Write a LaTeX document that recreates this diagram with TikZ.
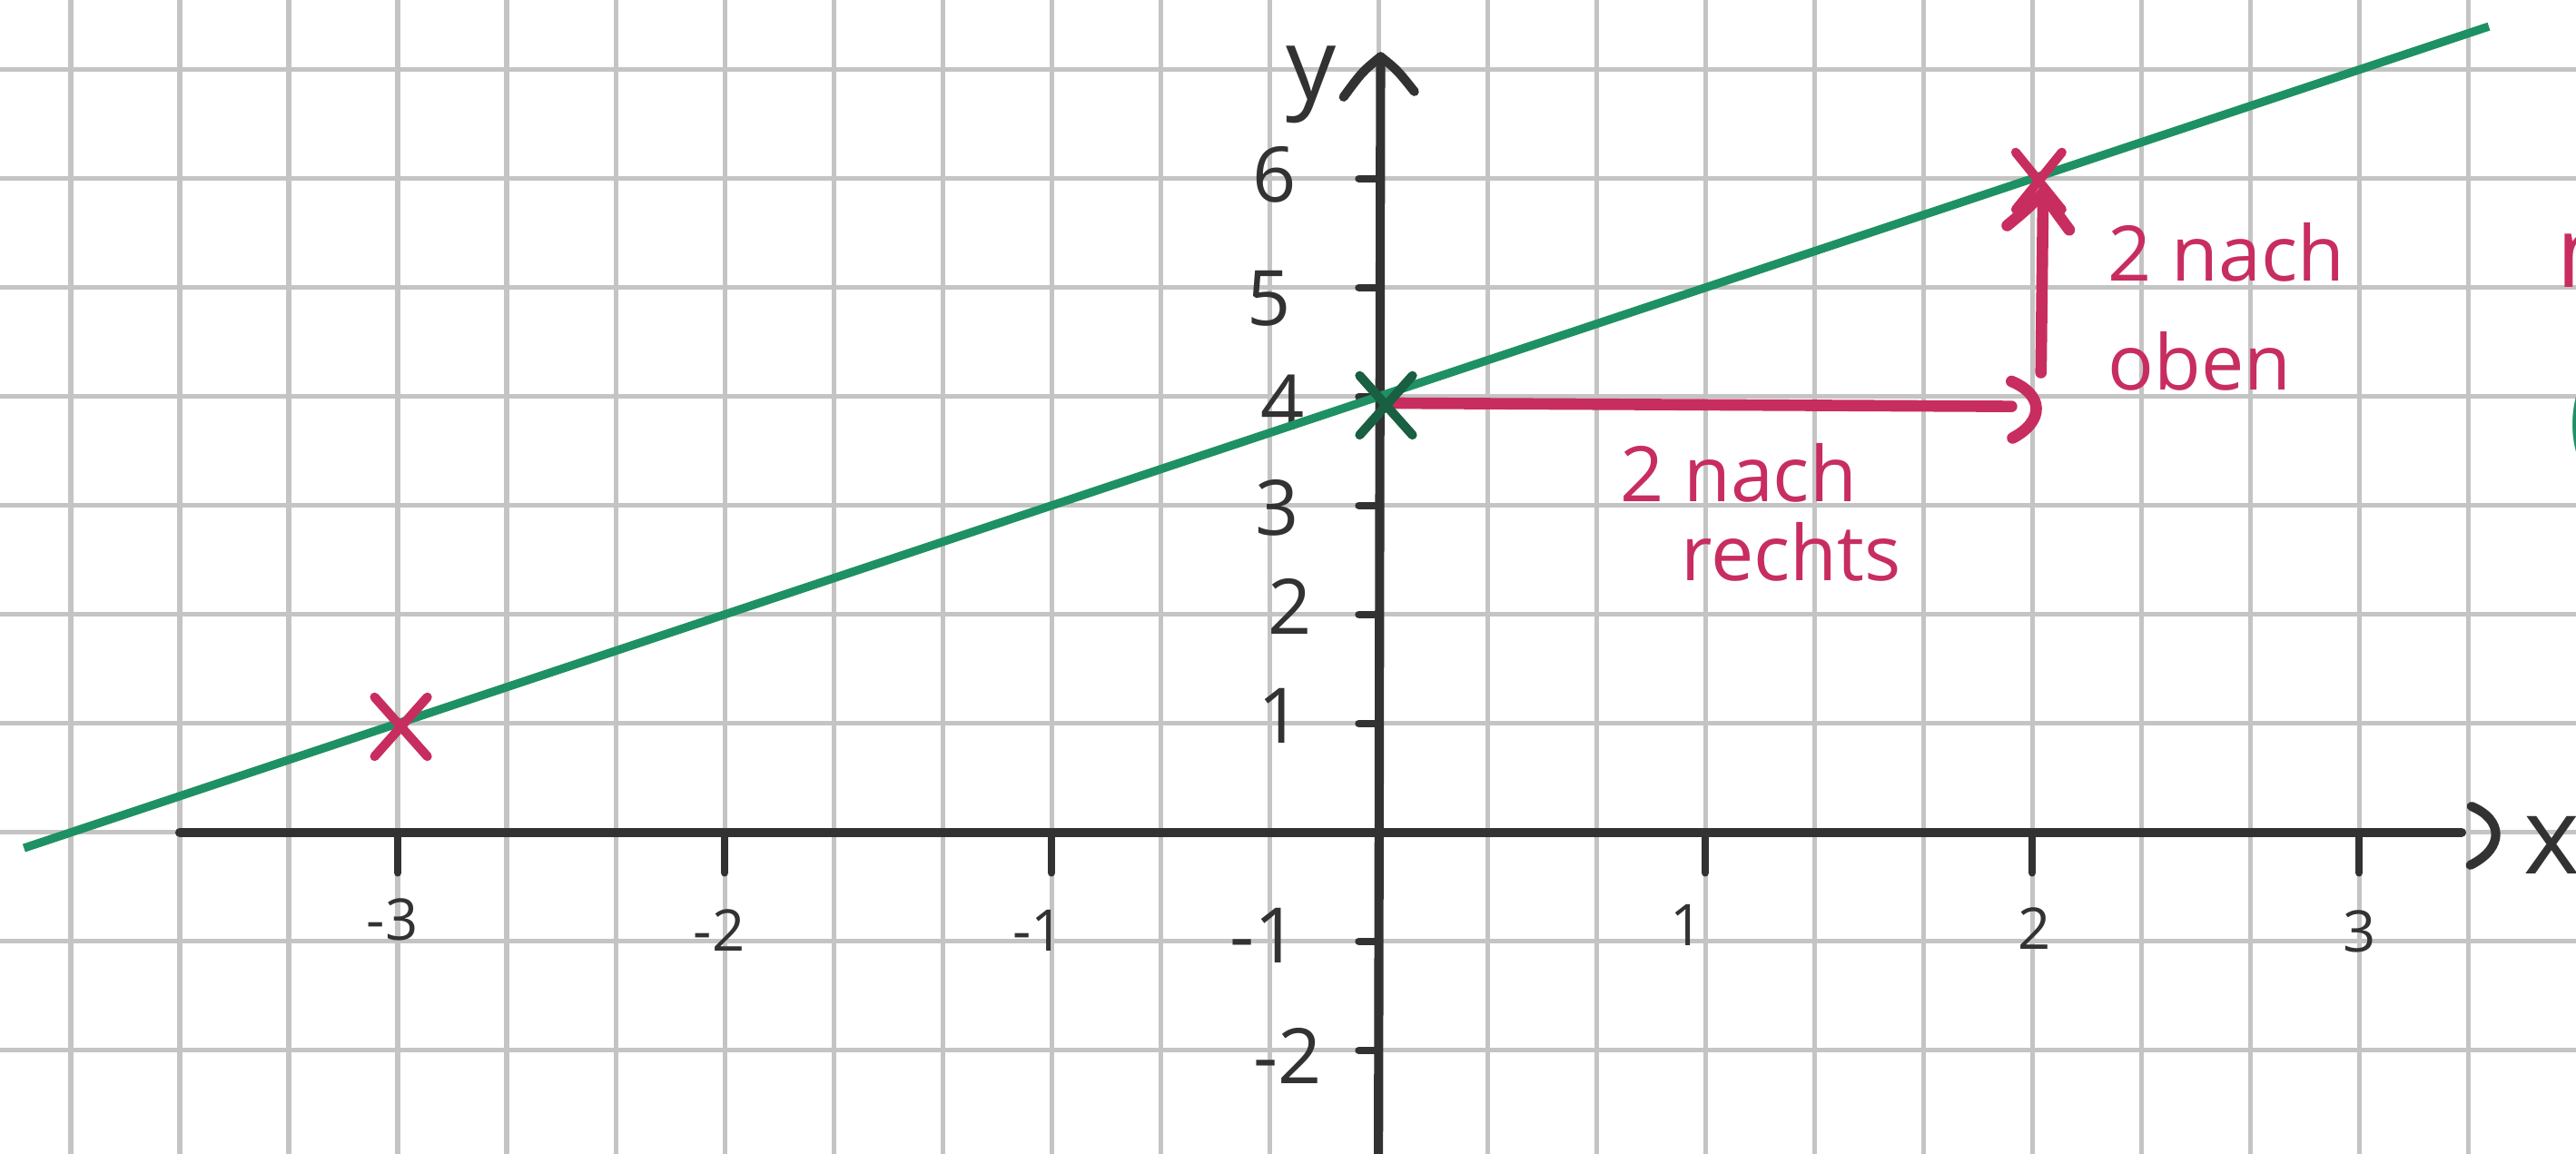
\documentclass[tikz,border=0pt]{standalone}
\usepackage{fontspec}
\setmainfont{Open Sans}
\usetikzlibrary{shapes.misc}
\definecolor{gridgray}{RGB}{196,196,196}
\definecolor{axisdark}{RGB}{50,50,50}
\definecolor{pen}{RGB}{200,45,95}
\definecolor{lgreen}{RGB}{30,145,100}
\definecolor{dgreen}{RGB}{25,95,65}
\begin{document}
\begin{tikzpicture}[x=1cm,y=1cm,
  gridline/.style={gridgray, line width=1.2pt},
  axis/.style={axisdark, line width=2.4pt, line cap=round, line join=round},
  tickmark/.style={axisdark, line width=2pt, line cap=round},
  ylab/.style={inner sep=0pt, text=axisdark, font=\fontsize{20}{20}\selectfont},
  xlab/.style={inner sep=0pt, text=axisdark, font=\fontsize{15}{15}\selectfont},
  redpen/.style={pen, line width=3pt, line cap=round, line join=round},
  redtxt/.style={inner sep=0pt, anchor=base west, text=pen, font=\fontsize{20}{20}\selectfont},
  graphline/.style={lgreen, line width=2.2pt},
  crossmark/.style={cross out, draw, line width=2.4pt, line cap=round, inner sep=0pt, minimum width=0.4cm, minimum height=0.46cm},
]
\useasboundingbox[fill=white] (-12.65,-2.95) rectangle (10.99,7.64);
\draw[gridline] (-12.65,-2.95) grid (10.99,7.64);

% axes
\coordinate (xs) at (-11,0);
\coordinate (xe) at (9.94,0);
\coordinate (ys) at (0,-3.1);
\coordinate (ye) at (0.02,7.12);
\draw[axis] (xs) -- (xe);
\draw[axis] (10.03,0.24) .. controls (10.32,0.12) and (10.34,-0.14) .. (10.02,-0.30);
\draw[axis] (ys) -- (ye);
\draw[axis] (-0.32,6.75) .. controls (-0.15,6.98) .. (ye) .. controls (0.17,7.0) .. (0.33,6.8);

% ticks
\foreach \m in {-3,-2,-1,1,2,3} \draw[tickmark] (3*\m,0) -- (3*\m,-0.37);
\foreach \m in {-2,-1,1,2,3,4,5,6} \draw[tickmark] (-0.18,\m) -- (0,\m);

% axis labels
\node[inner sep=0pt, text=axisdark, font=\fontsize{26}{26}\selectfont] (ylabel) at (-0.62,6.86) {y};
\node[inner sep=0pt, anchor=base west, text=axisdark, font=\fontsize{28}{28}\selectfont] (xlabel) at (10.5,-0.38) {x};

\node[ylab] (y6) at (-0.95,6.04) {6};
\node[ylab] (y5) at (-1.0,4.9) {5};
\node[ylab] (y4) at (-0.88,3.95) {4};
\node[ylab] (y3) at (-0.93,2.98) {3};
\node[ylab] (y2) at (-0.81,2.07) {2};
\node[ylab] (y1) at (-0.9,1.07) {1};
\node[ylab] (ym1) at (-1.05,-0.95) {-1};
\node[ylab] (ym2) at (-0.83,-2.05) {-2};

\node[xlab] (xm3) at (-9.05,-0.8) {-3};
\node[xlab] (xm2) at (-6.05,-0.9) {-2};
\node[xlab] (xm1) at (-3.12,-0.9) {-1};
\node[xlab] (x1) at (2.83,-0.85) {1};
\node[xlab] (x2) at (6.02,-0.88) {2};
\node[xlab] (x3) at (9.0,-0.91) {3};

% graph line y = x + 4
\coordinate (gs) at (-12.43,-0.143);
\coordinate (ge) at (10.19,7.397);
\draw[graphline] (gs) -- (ge);

% red step arrows
\coordinate (h0) at (0.17,3.94);
\coordinate (h1) at (5.81,3.91);
\draw[redpen] (h0) -- (h1);
\draw[redpen] (5.81,4.14) .. controls (6.1,4.02) and (6.12,3.78) .. (5.82,3.62);
\coordinate (v0) at (6.08,4.22);
\coordinate (v1) at (6.1,5.87);
\draw[redpen] (v0) -- (v1);
\draw[redpen] (5.77,5.57) .. controls (5.95,5.72) .. (v1) .. controls (6.2,5.72) .. (6.34,5.53);

% points
\node[crossmark, draw=pen] (PA) at (-8.97,0.97) {};
\node[crossmark, draw=pen, minimum width=0.34cm, minimum height=0.44cm] (PB) at (6.06,5.98) {};
\node[crossmark, draw=dgreen] (PC) at (0.07,3.92) {};

% red annotations
\node[redtxt] (up1) at (6.69,5.06) {2 nach};
\node[redtxt] (up2) at (6.69,4.06) {oben};
\node[redtxt] (rt1) at (2.21,3.04) {2 nach};
\node[redtxt] (rt2) at (2.77,2.31) {rechts};

% partly visible marks at the right edge (cut off in the reference too)
\node[redtxt, font=\fontsize{26}{26}\selectfont] (edgem) at (10.8,5.0) {m};
\node[inner sep=0pt, anchor=west, text=lgreen, font=\fontsize{36}{36}\selectfont] (edgep) at (10.9,3.75) {(};
\end{tikzpicture}
\end{document}
